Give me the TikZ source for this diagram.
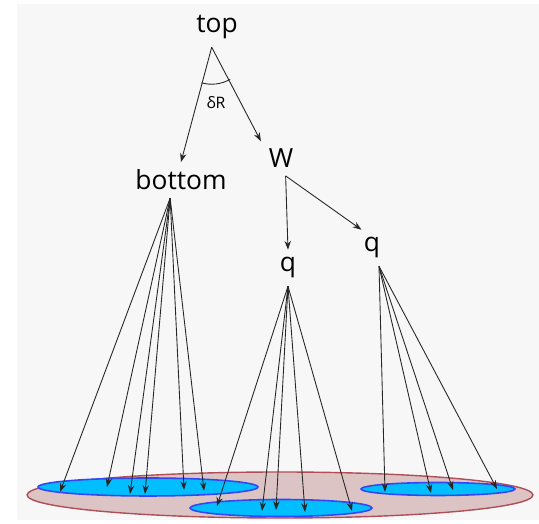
\documentclass[tikz,border=0pt]{standalone}
\usepackage{fontspec}
\setmainfont{Open Sans}
\usetikzlibrary{arrows.meta,positioning,calc}
\definecolor{setpink}{RGB}{221,196,196}
\definecolor{setred}{RGB}{176,78,88}
\definecolor{setblue}{RGB}{0,190,255}
\definecolor{setedge}{RGB}{55,70,245}

\begin{document}
\begin{tikzpicture}[x=0.02cm, y=0.02cm,
  lbl/.style={font=\fontsize{15}{18}\selectfont, inner sep=0pt, outer sep=4.5pt, anchor=base},
  arrow/.style={-{Stealth[length=5pt,width=3.6pt]}, draw=black!85, line width=0.5pt},
  cluster/.style={draw=setedge, line width=0.9pt, fill=setblue}]
  \useasboundingbox (0,0) rectangle (539,524);
  \fill[black!3] (17,4) rectangle (539,520);
  % whole set and its parts
  \draw[draw=setred, line width=0.8pt, fill=setpink] (280,29) ellipse [x radius=5.06cm, y radius=0.46cm];
  \draw[cluster] (148,37) ellipse [x radius=2.2cm, y radius=0.18cm];
  \draw[cluster] (281,16) ellipse [x radius=1.82cm, y radius=0.17cm];
  \draw[cluster] (438,35) ellipse [x radius=1.54cm, y radius=0.13cm];
  % tree
  \node[lbl] (top) at (217,491) {top};
  \node[lbl] (bottom) at (181,334) {bottom};
  \node[lbl] (W) at (281,356) {W};
  \node[lbl] (q1) at (288,252) {q};
  \node[lbl] (q2) at (372,272) {q};
  \draw[arrow] (top.-105) -- (bottom.north);
  \draw[arrow] (top.-105) -- (W.north west);
  \draw[arrow] (W.-75) -- (q1.north);
  \draw[arrow] (W.-75) -- (q2.120);
  \draw[draw=black!85, line width=0.5pt] ([shift={(-106:0.74cm)}]top.-105) arc[start angle=-106, end angle=-60, radius=0.74cm];
  \node[font=\fontsize{9}{11}\selectfont, inner sep=0pt] (dR) at (216,421) {δR};
  % fans into the parts
  \foreach \x/\y [count=\i] in {60/32, 107/37, 130/30, 145/30, 184/34, 204/33} {
    \coordinate (b\i) at (\x,\y);
    \draw[arrow] (bottom.-121) -- (b\i);
  }
  \foreach \x/\y [count=\i] in {217/18, 262/13, 276/14, 305/12, 352/13} {
    \coordinate (m\i) at (\x,\y);
    \draw[arrow] (q1.south) -- (m\i);
  }
  \foreach \x/\y [count=\i] in {385/32, 431/31, 453/34, 497/35} {
    \coordinate (r\i) at (\x,\y);
    \draw[arrow] (q2.-69) -- (r\i);
  }
\end{tikzpicture}
\end{document}
